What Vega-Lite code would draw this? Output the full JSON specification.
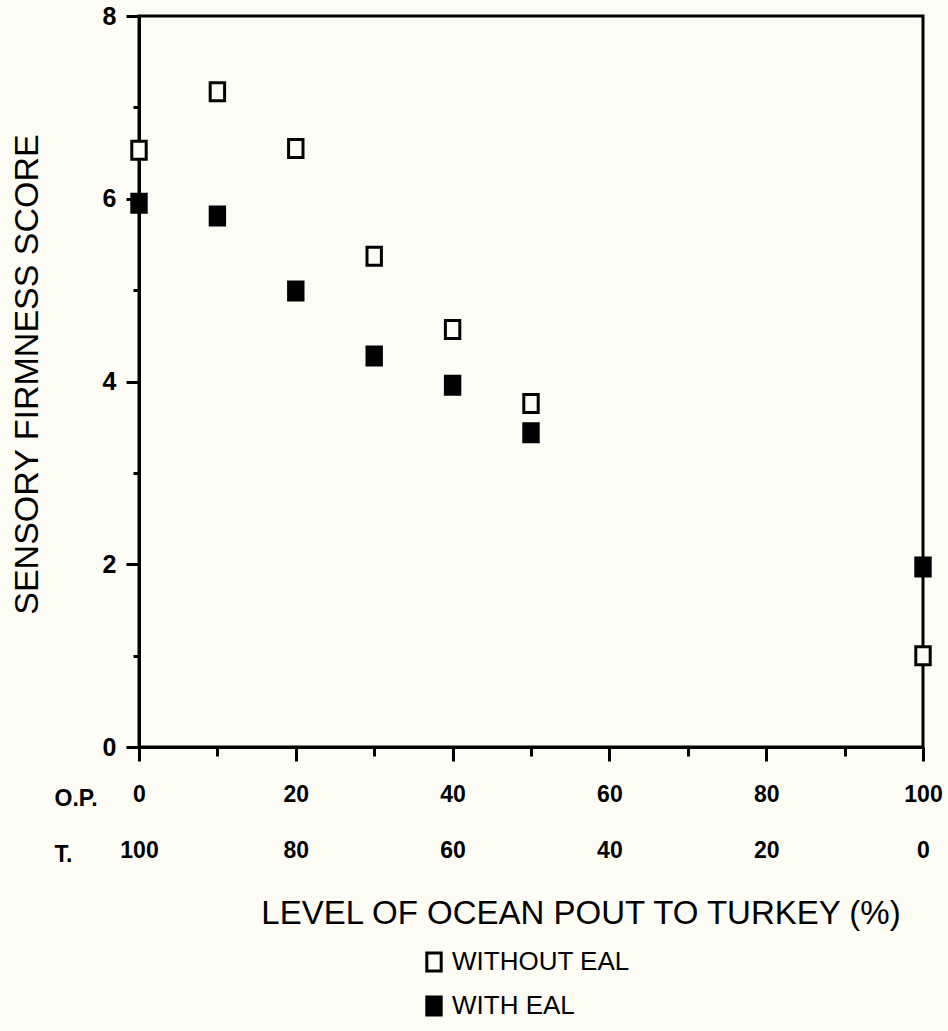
{
  "$schema": "https://vega.github.io/schema/vega-lite/v6.json",
  "width": 784,
  "height": 731,
  "autosize": {"type": "none"},
  "padding": {"left": 139, "top": 16, "right": 25, "bottom": 284},
  "background": "#fcfcf5",
  "config": {
    "view": {"stroke": "black", "strokeWidth": 3},
    "font": "Liberation Sans"
  },
  "title": {
    "text": "LEVEL OF OCEAN POUT TO TURKEY (%)",
    "orient": "bottom",
    "anchor": "middle",
    "fontSize": 33,
    "fontWeight": "normal",
    "font": "Liberation Sans",
    "color": "black",
    "offset": -123,
    "dx": 50
  },
  "data": {
    "values": [
      {"op": 0, "score": 6.53, "series": "WITHOUT EAL"},
      {"op": 10, "score": 7.17, "series": "WITHOUT EAL"},
      {"op": 20, "score": 6.55, "series": "WITHOUT EAL"},
      {"op": 30, "score": 5.37, "series": "WITHOUT EAL"},
      {"op": 40, "score": 4.57, "series": "WITHOUT EAL"},
      {"op": 50, "score": 3.76, "series": "WITHOUT EAL"},
      {"op": 100, "score": 1.0, "series": "WITHOUT EAL"},
      {"op": 0, "score": 5.95, "series": "WITH EAL"},
      {"op": 10, "score": 5.81, "series": "WITH EAL"},
      {"op": 20, "score": 4.99, "series": "WITH EAL"},
      {"op": 30, "score": 4.28, "series": "WITH EAL"},
      {"op": 40, "score": 3.96, "series": "WITH EAL"},
      {"op": 50, "score": 3.44, "series": "WITH EAL"},
      {"op": 100, "score": 1.97, "series": "WITH EAL"}
    ]
  },
  "mark": {
    "type": "point",
    "filled": true,
    "shape": "M-0.8,-1H0.8V1H-0.8Z",
    "size": 324,
    "stroke": "black",
    "strokeWidth": 3,
    "opacity": 1,
    "clip": false
  },
  "encoding": {
    "x": {
      "field": "op",
      "type": "quantitative",
      "scale": {"domain": [0, 100], "nice": false, "zero": false},
      "axis": {
        "values": [0, 10, 20, 30, 40, 50, 60, 70, 80, 90, 100],
        "labelExpr": "datum.value % 20 == 0 ? [datum.label, '' + (100 - datum.value)] : ''",
        "labelLineHeight": 56,
        "labelFontSize": 23,
        "labelFontWeight": "bold",
        "labelColor": "black",
        "labelOverlap": false,
        "labelBound": false,
        "labelFlush": false,
        "labelBaseline": "top",
        "labelPadding": 22,
        "grid": false,
        "domainColor": "black",
        "domainWidth": 3,
        "tickColor": "black",
        "tickWidth": 3,
        "tickSize": {"condition": {"test": "datum.value % 20 == 0", "value": 14}, "value": 9},
        "title": ["O.P.", "T."],
        "titleLineHeight": 56,
        "titleFontSize": 23,
        "titleFontWeight": "bold",
        "titleColor": "black",
        "titleAngle": 0,
        "titleAlign": "left",
        "titleBaseline": "top",
        "titleX": -85,
        "titleY": 40
      }
    },
    "y": {
      "field": "score",
      "type": "quantitative",
      "scale": {"domain": [0, 8], "nice": false, "zero": false},
      "axis": {
        "values": [0, 1, 2, 3, 4, 5, 6, 7, 8],
        "labelExpr": "datum.value % 2 == 0 ? datum.label : ''",
        "labelFontSize": 25,
        "labelFontWeight": "bold",
        "labelColor": "black",
        "labelPadding": 10,
        "labelBound": false,
        "labelFlush": false,
        "grid": false,
        "domainColor": "black",
        "domainWidth": 3,
        "tickColor": "black",
        "tickWidth": 3,
        "tickSize": {"condition": {"test": "datum.value % 2 == 0", "value": 13}, "value": 6},
        "title": "SENSORY FIRMNESS SCORE",
        "titleFontSize": 34,
        "titleFontWeight": "normal",
        "titleColor": "black",
        "titlePadding": 58,
        "titleY": 358
      }
    },
    "fill": {
      "field": "series",
      "type": "nominal",
      "scale": {"domain": ["WITHOUT EAL", "WITH EAL"], "range": ["#fcfcf5", "black"]},
      "legend": {
        "orient": "none",
        "legendX": 282,
        "legendY": 933,
        "title": null,
        "padding": 0,
        "labelFontSize": 26,
        "labelColor": "black",
        "labelFont": "Liberation Sans",
        "labelLimit": 400,
        "labelOffset": 5,
        "rowPadding": 14,
        "symbolType": "M-0.8,-1H0.8V1H-0.8Z",
        "symbolSize": 324,
        "symbolStrokeColor": "black",
        "symbolStrokeWidth": 3,
        "symbolOpacity": 1
      }
    }
  }
}
